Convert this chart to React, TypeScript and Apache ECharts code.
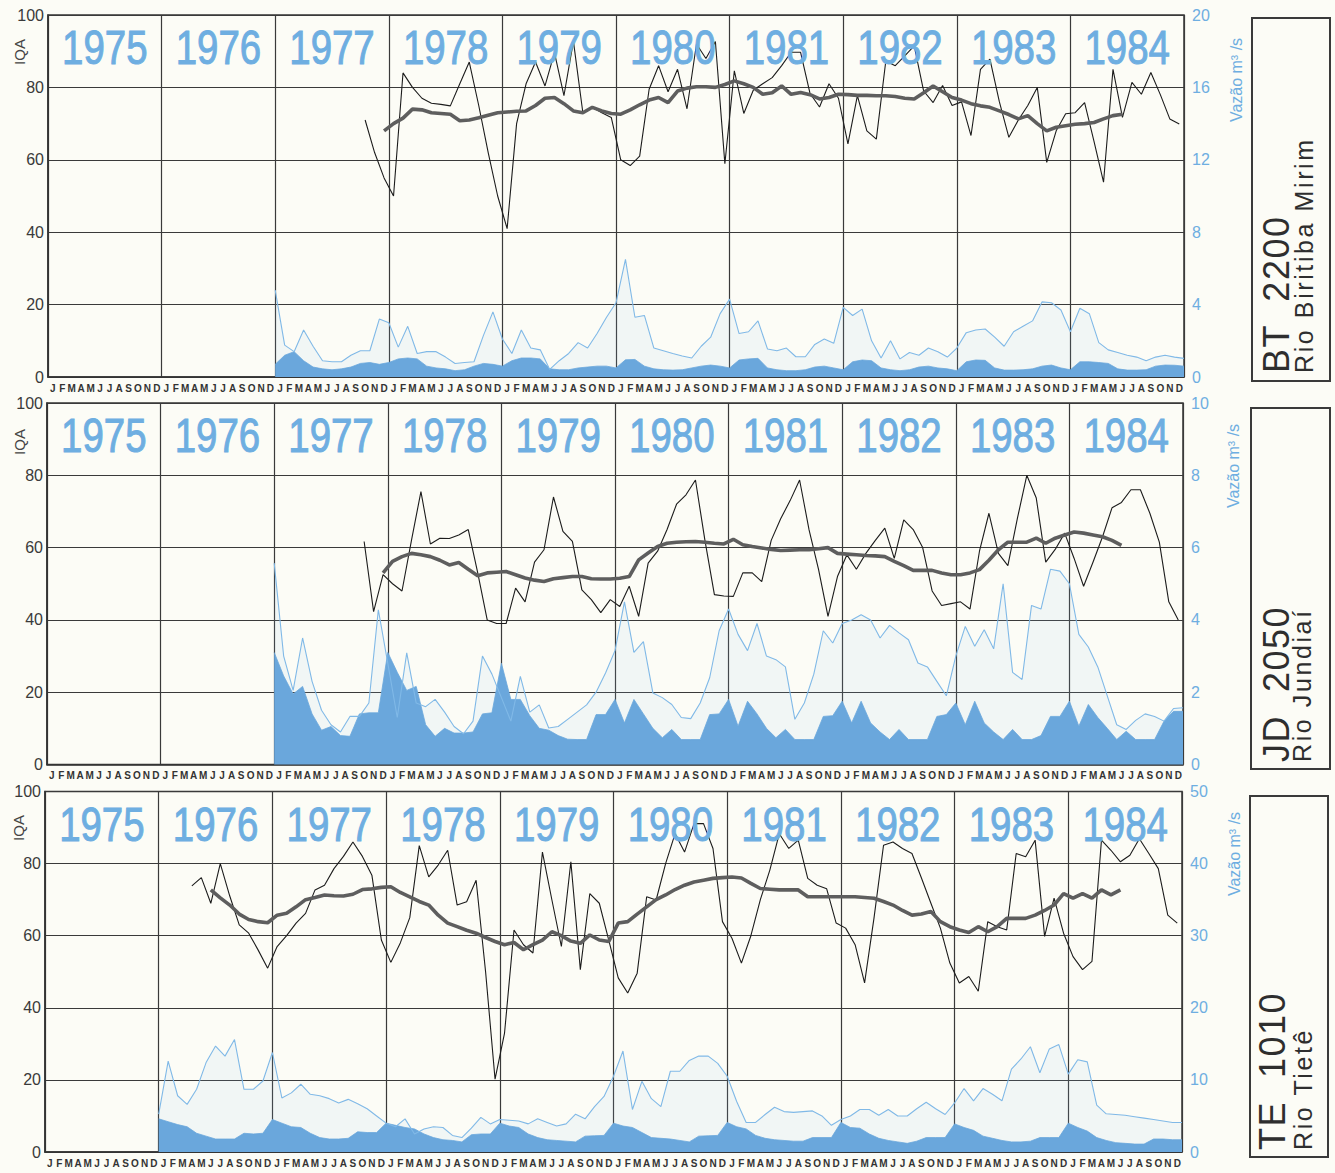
import React, { useEffect, useRef } from "react";
import * as echarts from "echarts";

// ---------- categories / labels ----------
const YEARS = ["1975", "1976", "1977", "1978", "1979", "1980", "1981", "1982", "1983", "1984"];
const MONTH_LETTERS = ["J", "F", "M", "A", "M", "J", "J", "A", "S", "O", "N", "D"];
const MONTH_AXIS = YEARS.flatMap(() => MONTH_LETTERS);
const STATIONS = ["BT  2200", "JD  2050", "TE  1010"];
const RIVERS = ["Rio Biritiba Mirim", "Rio Jundiaí", "Rio Tietê"];
const FLOW_MAX = [20, 10, 50];
const IQA_NAME = "IQA";
const FLOW_NAME = "Vazão m³ /s";

// ---------- BT 2200 (Rio Biritiba Mirim) ----------
const BT_IQA_START = 33; // month index (Oct 1977)
const BT_IQA = [
  71, 62, 55,
  50, 84, 80, 77, 75.6, 75.3, 74.9, 81, 87, 75, 62, 50,
  41, 70, 81, 87, 80.4, 89.6, 77.7, 92.8, 73, 74.5, 73, 71.7,
  60, 58.4, 61, 79.5, 86, 78.8, 85, 74.1, 92, 88, 92.7, 58.9,
  84.6, 72.8, 79.2, 81, 82.7, 86, 89.7, 89.7, 78.3, 74.6, 81, 77,
  64.4, 77.7, 68, 65.7, 87.3, 86, 88.7, 91.5, 79, 75.8, 80.5, 75,
  76, 66.7, 85, 87.8, 76, 66.2, 71, 75, 80, 59.3, 68, 72.7,
  73, 75.8, 65, 53.8, 85, 71.7, 81.4, 78.1, 84.1, 78, 71.3, 69.9,
];
const BT_MA_START = 35;
const BT_MA = [
  68,
  70, 71.5, 74, 73.8, 73, 72.8, 72.6, 70.8, 71, 71.6, 72.3, 73,
  73.2, 73.4, 73.5, 75, 77, 77.2, 75.5, 73.5, 73, 74.5, 73.5, 72.8,
  72.6, 73.8, 75.2, 76.5, 77.2, 75.8, 79, 79.8, 80.2, 80.2, 80, 80.8,
  81.8, 81, 80, 78.1, 78.5, 80.4, 78.1, 78.6, 78, 76.8, 77.2, 78.1,
  78, 77.8, 77.8, 77.7, 77.7, 77.5, 77, 76.8, 78.5, 80.4, 78.8, 77.2,
  76.5, 75.5, 74.9, 74.5, 73.5, 72.5, 71.3, 72.2, 70, 68, 69, 69.4,
  69.8, 70, 70.3, 71.3, 72.2, 72.6,
];
const BT_FLOW_START = 24; // month boundary index (1 Jan 1977)
const BT_FLOW_MEAN = [
  4.8, 1.76, 1.4, 2.6, 1.7, 0.9, 0.84, 0.84, 1.2, 1.45, 1.45, 3.2,
  3.0, 1.65, 2.8, 1.3, 1.4, 1.4, 1.1, 0.75, 0.8, 0.84, 2.3, 3.6,
  2.1, 1.3, 2.6, 1.6, 1.5, 0.42, 0.9, 1.3, 1.9, 1.6, 2.4, 3.3,
  4.1, 6.5, 3.3, 3.4, 1.6, 1.45, 1.3, 1.16, 1.05, 1.7, 2.2, 3.5,
  4.3, 2.4, 2.5, 3.1, 1.55, 1.45, 1.6, 1.12, 1.12, 1.8, 2.1, 1.86,
  3.85, 3.4, 3.75, 2.0, 1.05, 2.0, 1.0, 1.35, 1.2, 1.6, 1.4, 1.1,
  1.6, 2.45, 2.6, 2.65, 2.2, 1.7, 2.5, 2.8, 3.1, 4.15, 4.1, 3.7,
  2.5, 3.8, 3.5, 1.9, 1.5, 1.35, 1.2, 1.1, 0.9, 1.1, 1.2, 1.1,
  1.03,
];
const BT_FLOW_MIN = [
  0.7, 1.2, 1.4, 0.9, 0.55, 0.45, 0.4, 0.45, 0.55, 0.75, 0.8, 0.7,
  0.8, 1.0, 1.05, 1.0, 0.6, 0.5, 0.45, 0.35, 0.4, 0.6, 0.75, 0.7,
  0.6, 0.9, 1.05, 1.05, 1.0, 0.45, 0.4, 0.4, 0.5, 0.55, 0.6, 0.6,
  0.5, 0.95, 0.97, 0.6, 0.45, 0.4, 0.38, 0.4, 0.5, 0.6, 0.66, 0.6,
  0.5, 0.94, 1.0, 1.03, 0.5, 0.4, 0.35, 0.35, 0.4, 0.55, 0.6, 0.5,
  0.4, 0.84, 0.94, 0.9, 0.5, 0.4, 0.35, 0.4, 0.55, 0.6, 0.5, 0.45,
  0.35, 0.84, 0.94, 0.92, 0.5, 0.38, 0.38, 0.4, 0.45, 0.6, 0.66, 0.5,
  0.4, 0.84, 0.84, 0.8, 0.75, 0.45, 0.38, 0.38, 0.4, 0.6, 0.66, 0.65,
  0.6,
];

// ---------- JD 2050 (Rio Jundiaí) ----------
const JD_IQA_START = 33;
const JD_IQA = [
  61.7, 42.3, 52.5,
  50, 48, 62, 75.5, 61, 62.6, 62.5, 63.5, 65, 53, 40, 39,
  39, 48.8, 45, 56, 59.4, 74, 64.5, 61.7, 48.3, 45.6, 42, 45.6,
  43.7, 49.3, 41, 55.7, 59, 65, 72, 74.6, 78.7, 62, 47, 46.6,
  46.5, 53, 53, 50.6, 62, 68, 73, 78.7, 64.9, 54, 41, 52,
  58, 54, 58.4, 62, 65.4, 57, 67.7, 65, 60, 48, 44, 44.5,
  45, 43, 59, 69.5, 58.4, 55, 68, 80, 73.7, 56, 59.5, 64,
  57, 49.3, 56, 63, 71, 72.5, 76, 76, 69.5, 61.5, 45, 40,
];
const JD_MA_START = 35;
const JD_MA = [
  53,
  56.2, 57.5, 58.4, 58, 57.5, 56.5, 55.2, 55.9, 54, 52.2, 53, 53.2,
  53.4, 52.5, 51.6, 51, 50.6, 51.4, 51.7, 52, 52, 51.4, 51.3, 51.3,
  51.5, 52, 56.6, 58.5, 60.3, 61.2, 61.5, 61.6, 61.7, 61.5, 61.2, 61,
  62.3, 60.8, 60.3, 59.9, 59.5, 59.2, 59.3, 59.4, 59.4, 59.7, 60, 58.4,
  58.2, 58, 57.8, 57.7, 57.5, 56.2, 55, 53.7, 53.7, 53.7, 53, 52.5,
  52.5, 53, 53.9, 56.5, 59.4, 61.5, 61.5, 61.5, 62.6, 61.2, 62.6, 63.5,
  64.3, 64, 63.5, 63, 62, 60.6,
];
const JD_FLOW_START = 24;
const JD_FLOW_MEAN = [
  5.57, 3.0, 2.05, 3.5, 2.3, 1.5, 1.1, 0.9, 1.33, 1.33, 1.7, 4.28,
  2.8, 1.3, 3.09, 1.7, 1.6, 1.8, 1.45, 1.05, 0.85, 1.2, 3.0, 2.5,
  1.85, 1.2, 2.44, 1.45, 1.65, 1.01, 1.05, 1.25, 1.45, 1.65, 2.0, 2.53,
  3.15, 4.5, 3.1, 3.4, 1.98, 1.85, 1.66, 1.3, 1.27, 1.7, 2.4, 3.7,
  4.3, 3.6, 3.15, 3.9, 3.0, 2.9, 2.7, 1.25, 1.7, 2.5, 3.7, 3.36,
  3.9, 4.0, 4.14, 4.0, 3.5, 3.85, 3.64, 3.45, 2.81, 2.7, 2.3, 1.9,
  3.0, 3.82, 3.27, 3.73, 3.2, 5.0, 2.55, 2.35, 4.4, 4.3, 5.4, 5.35,
  5.0, 3.6, 3.25, 2.7, 1.9, 1.1, 0.97, 1.22, 1.4, 1.33, 1.2, 1.55,
  1.57,
];
const JD_FLOW_MIN = [
  3.1, 2.45, 1.95, 2.16, 1.4, 0.95, 1.05, 0.8, 0.78, 1.4, 1.43, 1.43,
  3.1, 2.55, 2.05, 2.16, 1.1, 0.78, 1.0, 0.87, 0.87, 0.9, 1.4, 1.43,
  2.8, 1.8, 1.8, 1.35, 1.0, 0.95, 0.8, 0.7, 0.69, 0.69, 1.38, 1.38,
  1.8, 1.15, 1.8, 1.4, 1.0, 0.74, 0.97, 0.69, 0.69, 0.69, 1.38, 1.4,
  1.8, 1.06, 1.75, 1.4, 1.0, 0.74, 0.97, 0.69, 0.69, 0.69, 1.33, 1.35,
  1.75, 1.15, 1.75, 1.15, 0.9, 0.69, 0.97, 0.69, 0.69, 0.69, 1.33, 1.38,
  1.7, 1.1, 1.75, 1.15, 0.9, 0.69, 0.97, 0.69, 0.69, 0.8, 1.33, 1.33,
  1.75, 1.06, 1.66, 1.3, 1.0, 0.69, 0.92, 0.69, 0.69, 0.69, 1.2, 1.47,
  1.47,
];

// ---------- TE 1010 (Rio Tietê) ----------
const TE_IQA_START = 15; // Apr 1976
const TE_IQA = [
  73.8, 76.1, 69, 80, 71, 63, 60.7, 56, 51,
  57, 60, 63.5, 66.2, 72.7, 74, 78.6, 82, 86, 82, 76.8, 58.8,
  52.6, 58, 65, 85, 76.3, 79.6, 83.7, 68.5, 69.4, 75.4, 50, 20.2,
  33, 61.6, 57.5, 55.2, 83.2, 69.9, 57, 80.5, 50.6, 71.7, 69, 58.8,
  48.3, 44.1, 49.6, 70.8, 69.9, 80, 88.3, 83.2, 91.1, 91.1, 84.2, 63.9,
  59.3, 52.4, 60, 70, 78.2, 88.3, 84.2, 86.5, 75.9, 74, 73, 63.5,
  62.1, 57.5, 46.9, 65, 85.1, 86, 84.2, 82.8, 76, 69, 62.1, 52.4,
  46.9, 48.7, 44.6, 63.9, 62.5, 61.6, 82.8, 81.9, 86.5, 59.8, 70.4, 60.7,
  54.2, 50.6, 52.9, 86.5, 83.7, 80.5, 82.3, 86.9, 82.8, 78.6, 65.7, 63.5,
];
const TE_MA_START = 17;
const TE_MA = [
  72.7, 70.5, 68.5, 66, 64.5, 63.9, 63.6,
  65.7, 66.2, 68, 70, 70.6, 71.3, 71.1, 71, 71.5, 72.8, 73, 73.4,
  73.6, 72, 70.8, 69.5, 68.5, 65.7, 63.5, 62.5, 61.5, 60.7, 59.5, 58.4,
  57.5, 58.1, 56.1, 57.5, 58.8, 61.1, 60, 58.5, 57.9, 60.2, 58.8, 58.4,
  63.5, 63.9, 66, 68, 70, 71.3, 72.8, 74, 74.9, 75.4, 75.9, 76.1,
  76.3, 76, 74.5, 73.1, 72.9, 72.7, 72.7, 72.7, 70.8, 70.8, 70.8, 70.8,
  70.8, 70.8, 70.6, 70.4, 69.5, 68.5, 67, 65.7, 66, 66.7, 63.9, 62.5,
  61.6, 60.9, 62.5, 61.1, 62.5, 64.8, 64.8, 64.8, 65.7, 67, 68.5, 71.7,
  70.4, 71.7, 70.4, 72.7, 71.3, 72.7,
];
const TE_FLOW_START = 12; // 1 Jan 1976
const TE_FLOW_MEAN = [
  5.25, 12.6, 7.8, 6.6, 8.7, 12.4, 14.7, 13.3, 15.6, 8.7, 8.7, 9.85,
  13.8, 7.5, 8.2, 9.4, 8.0, 7.8, 7.4, 6.8, 7.3, 6.7, 6.0, 5.0,
  4.0, 3.5, 4.6, 2.5, 3.2, 3.5, 3.4, 2.3, 2.0, 3.3, 4.8, 3.9,
  4.5, 4.4, 4.3, 3.9, 4.6, 4.1, 3.6, 3.9, 5.25, 4.6, 6.3, 7.7,
  10.5, 14.0, 5.9, 9.8, 7.4, 6.3, 11.2, 11.2, 12.7, 13.3, 13.3, 12.3,
  10.5, 7.0, 4.1, 4.1, 5.2, 6.2, 5.6, 5.5, 5.6, 5.7, 5.0, 3.7,
  4.5, 5.0, 5.9, 5.9, 5.1, 5.9, 5.0, 5.0, 6.0, 6.9, 6.0, 5.2,
  6.8, 8.8, 7.1, 8.8, 8.0, 7.1, 11.5, 12.9, 14.6, 11.0, 14.3, 14.9,
  10.8, 12.8, 12.5, 6.5, 5.3, 5.2, 5.1, 4.9, 4.7, 4.5, 4.3, 4.1,
  4.1,
];
const TE_FLOW_MIN = [
  4.6, 4.2, 3.8, 3.5, 2.6, 2.2, 1.8, 1.8, 1.8, 2.6, 2.5, 2.6,
  4.5, 4.0, 3.5, 3.4, 2.6, 2.0, 1.8, 1.8, 1.9, 2.8, 2.7, 2.7,
  4.0, 3.7, 3.4, 3.2, 2.5, 2.0, 1.7, 1.6, 1.4, 2.4, 2.5, 2.5,
  4.0, 3.6, 3.4, 2.5, 2.0, 1.7, 1.6, 1.5, 1.4, 2.2, 2.25, 2.3,
  4.0, 3.6, 3.4, 2.7, 2.0, 1.9, 1.8, 1.6, 1.4, 2.2, 2.25, 2.3,
  4.1, 3.5, 3.2, 2.3, 1.9, 1.7, 1.6, 1.5, 1.5, 2.0, 2.0, 2.0,
  4.1, 3.4, 3.3, 2.5, 1.9, 1.6, 1.4, 1.2, 1.5, 2.0, 2.0, 2.0,
  3.9, 3.4, 3.0, 2.2, 1.9, 1.6, 1.4, 1.4, 1.5, 2.0, 2.0, 2.0,
  4.0, 3.4, 2.9, 2.0, 1.6, 1.3, 1.2, 1.1, 1.1, 1.8, 1.8, 1.7,
  1.7,
];

// ---------- layout & style ----------
const FONT = '"Liberation Sans", Arial, Helvetica, sans-serif';
const BG = "#fcfcf6";
const INK = "#333333";
const BLUE_TEXT = "#6eaee1";
const BLUE_DARK = "#6aa7dc";
const BLUE_LINE = "#80b9e7";
const GRIDS = [
  { left: 48, top: 15, width: 1136, height: 362 },
  { left: 47, top: 403, width: 1136, height: 361.5 },
  { left: 45, top: 791.5, width: 1137, height: 360.5 },
];
const BOXES = [
  { x: 1252, y: 18, w: 78, h: 363, codeX: 1276, nameX: 1304, bottom: 373 },
  { x: 1251, y: 408, w: 79, h: 361, codeX: 1276, nameX: 1302, bottom: 762 },
  { x: 1250, y: 796, w: 78, h: 361, codeX: 1272, nameX: 1303, bottom: 1150 },
];
const IQA_LABEL_POS = [
  { x: 19, y: 52 },
  { x: 19, y: 442 },
  { x: 18, y: 828 },
];
const FLOW_LABEL_POS = [
  { x: 1236, y: 80 },
  { x: 1233, y: 466 },
  { x: 1234, y: 854 },
];

const PANELS = [
  { iqa: BT_IQA, iqaStart: BT_IQA_START, ma: BT_MA, maStart: BT_MA_START, mean: BT_FLOW_MEAN, min: BT_FLOW_MIN, flowStart: BT_FLOW_START },
  { iqa: JD_IQA, iqaStart: JD_IQA_START, ma: JD_MA, maStart: JD_MA_START, mean: JD_FLOW_MEAN, min: JD_FLOW_MIN, flowStart: JD_FLOW_START },
  { iqa: TE_IQA, iqaStart: TE_IQA_START, ma: TE_MA, maStart: TE_MA_START, mean: TE_FLOW_MEAN, min: TE_FLOW_MIN, flowStart: TE_FLOW_START },
];

const pairs = (arr: number[], start: number, offset: number) =>
  arr.map((v, j) => [start + j + offset, v]);

export default function App() {
  const ref = useRef<HTMLDivElement>(null);

  useEffect(() => {
    if (!ref.current) return;
    const chart = echarts.init(ref.current, null, { renderer: "svg" });

    const xAxis: any[] = [];
    const yAxis: any[] = [];
    const series: any[] = [];

    PANELS.forEach((p, idx) => {
      xAxis.push({
        type: "value",
        gridIndex: idx,
        min: 0,
        max: 120,
        interval: 12,
        position: "bottom",
        axisLine: { show: true, lineStyle: { color: INK, width: 1.5 } },
        axisTick: { show: false },
        axisLabel: { show: false },
        splitLine: { show: true, lineStyle: { color: "#3a3a3a", width: 1.2 } },
      });
      xAxis.push({
        type: "category",
        gridIndex: idx,
        data: MONTH_AXIS,
        boundaryGap: true,
        position: "bottom",
        axisLine: { show: false },
        axisTick: { show: false },
        splitLine: { show: false },
        axisLabel: {
          interval: 0,
          fontSize: 10,
          fontWeight: "bold",
          color: INK,
          margin: 6,
          fontFamily: FONT,
        },
      });
      yAxis.push({
        type: "value",
        gridIndex: idx,
        min: 0,
        max: 100,
        interval: 20,
        position: "left",
        axisLine: { show: true, lineStyle: { color: INK, width: 1.5 } },
        axisTick: { show: false },
        axisLabel: { color: "#3a3a3a", fontSize: 16, margin: 4, fontFamily: FONT },
        splitLine: { show: true, lineStyle: { color: "#3a3a3a", width: 1.2 } },
      });
      yAxis.push({
        type: "value",
        gridIndex: idx,
        min: 0,
        max: FLOW_MAX[idx],
        interval: FLOW_MAX[idx] / 5,
        position: "right",
        axisLine: { show: false },
        axisTick: { show: false },
        axisLabel: { color: BLUE_TEXT, fontSize: 16, margin: 8, fontFamily: FONT },
        splitLine: { show: false },
      });

      const xi = idx * 2;
      const yL = idx * 2;
      const yR = idx * 2 + 1;
      const meanData = pairs(p.mean, p.flowStart, 0);
      const minData = pairs(p.min, p.flowStart, 0);

      series.push({
        name: "Vazão média área " + idx,
        type: "line",
        xAxisIndex: xi,
        yAxisIndex: yR,
        data: meanData,
        symbol: "none",
        lineStyle: { width: 0 },
        areaStyle: { color: "rgba(150,196,236,0.15)" },
        silent: true,
        z: 1,
      });
      series.push({
        name: "Vazão mínima " + idx,
        type: "line",
        xAxisIndex: xi,
        yAxisIndex: yR,
        data: minData,
        symbol: "none",
        lineStyle: { width: 0.8, color: BLUE_DARK },
        areaStyle: { color: BLUE_DARK, opacity: 1 },
        silent: true,
        z: 2,
      });
      series.push({
        name: "Vazão média " + idx,
        type: "line",
        xAxisIndex: xi,
        yAxisIndex: yR,
        data: meanData,
        symbol: "none",
        lineStyle: { width: 1.1, color: BLUE_LINE },
        silent: true,
        z: 3,
      });
      series.push({
        name: "IQA " + idx,
        type: "line",
        xAxisIndex: xi,
        yAxisIndex: yL,
        data: pairs(p.iqa, p.iqaStart, 0.5),
        symbol: "none",
        lineStyle: { width: 1.1, color: "#1c1c1c" },
        silent: true,
        z: 4,
      });
      series.push({
        name: "IQA média móvel " + idx,
        type: "line",
        xAxisIndex: xi,
        yAxisIndex: yL,
        data: pairs(p.ma, p.maStart, 0.5),
        symbol: "none",
        lineStyle: { width: 3.6, color: "#5e5e5e" },
        silent: true,
        z: 5,
      });
    });

    chart.setOption({
      animation: false,
      backgroundColor: BG,
      grid: GRIDS.map((g) => ({
        left: g.left,
        top: g.top,
        width: g.width,
        height: g.height,
        show: true,
        borderColor: INK,
        borderWidth: 1.5,
        backgroundColor: "transparent",
      })),
      xAxis,
      yAxis,
      series,
    });

    // year labels, axis names and station boxes
    const graphics: any[] = [];
    PANELS.forEach((_, idx) => {
      YEARS.forEach((yr, j) => {
        const pt = chart.convertToPixel(
          { xAxisIndex: idx * 2, yAxisIndex: idx * 2 },
          [12 * j + 6, 91]
        ) as number[];
        graphics.push({
          type: "text",
          x: pt[0],
          y: pt[1],
          scaleX: 0.8,
          scaleY: 1,
          z: 10,
          silent: true,
          style: {
            text: yr,
            fill: BLUE_TEXT,
            stroke: BLUE_TEXT,
            lineWidth: 1,
            font: "48px " + FONT,
            textAlign: "center",
            textVerticalAlign: "middle",
            align: "center",
            verticalAlign: "middle",
          },
        });
      });
      graphics.push({
        type: "text",
        x: IQA_LABEL_POS[idx].x,
        y: IQA_LABEL_POS[idx].y,
        rotation: Math.PI / 2,
        silent: true,
        style: {
          text: IQA_NAME,
          fill: "#444",
          font: "15px " + FONT,
          textAlign: "center",
          textVerticalAlign: "middle",
          align: "center",
          verticalAlign: "middle",
        },
      });
      graphics.push({
        type: "text",
        x: FLOW_LABEL_POS[idx].x,
        y: FLOW_LABEL_POS[idx].y,
        rotation: Math.PI / 2,
        silent: true,
        style: {
          text: FLOW_NAME,
          fill: BLUE_TEXT,
          font: "16px " + FONT,
          textAlign: "center",
          textVerticalAlign: "middle",
          align: "center",
          verticalAlign: "middle",
        },
      });
      const b = BOXES[idx];
      graphics.push({
        type: "rect",
        silent: true,
        shape: { x: b.x, y: b.y, width: b.w, height: b.h },
        style: { fill: "none", stroke: "#3a3a3a", lineWidth: 2 },
      });
      graphics.push({
        type: "text",
        x: b.codeX,
        y: b.bottom,
        rotation: Math.PI / 2,
        silent: true,
        style: {
          text: STATIONS[idx],
          fill: "#2e2e2e",
          font: "36px " + FONT,
          textAlign: "left",
          textVerticalAlign: "middle",
          align: "left",
          verticalAlign: "middle",
        },
      });
      graphics.push({
        type: "text",
        x: b.nameX,
        y: b.bottom,
        rotation: Math.PI / 2,
        silent: true,
        style: {
          text: RIVERS[idx],
          fill: "#2e2e2e",
          font: "25px " + FONT,
          textAlign: "left",
          textVerticalAlign: "middle",
          align: "left",
          verticalAlign: "middle",
        },
      });
    });
    chart.setOption({ graphic: graphics });

    const spacing = () => {
      const root = ref.current;
      if (!root) return;
      root.querySelectorAll("text").forEach((t) => {
        const s = (t.textContent || "").trim();
        if (RIVERS.includes(s)) t.setAttribute("letter-spacing", "2.6");
        else if (STATIONS.map((x) => x.trim()).includes(s)) t.setAttribute("letter-spacing", "1.5");
      });
    };
    chart.on("finished", spacing);
    const t1 = setTimeout(spacing, 50);
    const t2 = setTimeout(spacing, 400);

    return () => {
      clearTimeout(t1);
      clearTimeout(t2);
      chart.dispose();
    };
  }, []);

  return (
    <div
      ref={ref}
      style={{ position: "fixed", left: 0, top: 0, width: 1335, height: 1173, background: BG }}
    />
  );
}
